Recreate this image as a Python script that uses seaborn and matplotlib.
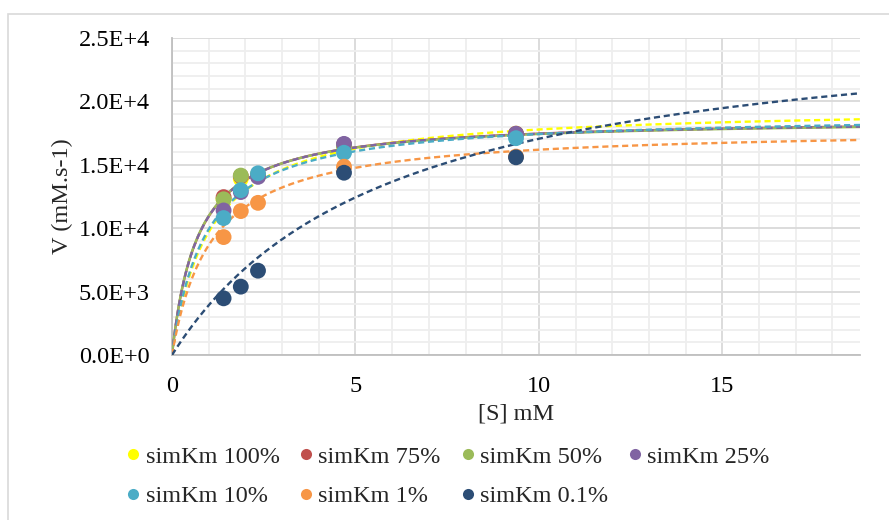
import numpy as np
import pandas as pd
import matplotlib
matplotlib.use("Agg")
import matplotlib.pyplot as plt
from matplotlib.lines import Line2D
from matplotlib.patches import Rectangle
from matplotlib.ticker import MultipleLocator, FuncFormatter
import seaborn as sns

# ---- data ----
series = ["simKm 100%", "simKm 75%", "simKm 50%", "simKm 25%",
          "simKm 10%", "simKm 1%", "simKm 0.1%"]
colors = ["#FFFF00", "#C0504D", "#9BBB59", "#8064A2",
          "#4BACC6", "#F79646", "#2C4D75"]
S = [1.40625, 1.875, 2.34375, 4.6875, 9.375]
v100 = [12300, 13900, 14250, 16500, 17450]
v75 = [12450, 14100, 14150, 16600, 17450]
v50 = [12280, 14150, 14100, 16450, 17350]
v25 = [11400, 12850, 14050, 16650, 17450]
v10 = [10800, 13000, 14330, 15950, 17100]
v1 = [9300, 11350, 12000, 14850, 15650]
v01 = [4470, 5390, 6650, 14375, 15590]
values = [v100, v75, v50, v25, v10, v1, v01]

# fitted Michaelis-Menten trend lines (Vmax, Km)
vmax = [19600, 18700, 18650, 18690, 19030, 17925, 27170]
km = [1.02, 0.71, 0.70, 0.71, 0.92, 1.07, 5.93]
x_max = 18.75

sns.set_style("white")
plt.rcParams["font.family"] = ["Liberation Serif", "DejaVu Serif"]
FS = 17.5

fig = plt.figure(figsize=(8.89, 5.2), dpi=100)
ax = fig.add_axes([172 / 889, 1 - 355 / 520, (860 - 172) / 889, (355 - 38) / 520])

# chart border
fig.patches.append(Rectangle((8 / 889, -0.05), 1.2, 1 - 14 / 520 + 0.05,
                             transform=fig.transFigure, fill=False,
                             edgecolor="#D9D9D9", lw=1.2, zorder=0))

xs = np.linspace(0, x_max, 400)
line_styles = [(0, (2.6, 1.6)), "-", "-", (0, (2.6, 1.6)),
               (0, (2.6, 1.6)), (0, (2.6, 1.6)), (0, (2.6, 1.6))]
for name, c, vm, k, ls in zip(series, colors, vmax, km, line_styles):
    dfl = pd.DataFrame({"S": xs, "V": vm * xs / (k + xs)})
    sns.lineplot(data=dfl, x="S", y="V", ax=ax, color=c, lw=1.7,
                 linestyle=ls, zorder=3, legend=False)

for name, c, vals in zip(series, colors, values):
    dfp = pd.DataFrame({"S": S, "V": vals})
    sns.scatterplot(data=dfp, x="S", y="V", ax=ax, color=c, s=130,
                    edgecolor="none", zorder=4, legend=False)

ax.set_xlim(0, x_max)
ax.set_ylim(0, 25000)
ax.xaxis.set_major_locator(MultipleLocator(5))
ax.xaxis.set_minor_locator(MultipleLocator(1))
ax.yaxis.set_major_locator(MultipleLocator(5000))
ax.yaxis.set_minor_locator(MultipleLocator(1000))


def sci(v, pos):
    if v == 0:
        return "0.0E+0"
    e = int(np.floor(np.log10(abs(v))))
    return f"{v / 10 ** e:.1f}E+{e}"


ax.yaxis.set_major_formatter(FuncFormatter(sci))
ax.xaxis.set_major_formatter(FuncFormatter(lambda v, p: f"{v:g}"))
ax.grid(True, which="major", color="#D9D9D9", lw=1.3)
ax.grid(True, which="minor", color="#EEEEEE", lw=1.3)
ax.set_axisbelow(True)
for sp in ["top", "right"]:
    ax.spines[sp].set_visible(False)
for sp in ["left", "bottom"]:
    ax.spines[sp].set_color("#BFBFBF")
    ax.spines[sp].set_linewidth(1.3)
ax.tick_params(axis="both", which="both", length=0, labelsize=FS, colors="black")
ax.tick_params(axis="y", pad=16)
ax.tick_params(axis="x", pad=15)
ax.set_xlabel("[S] mM", fontsize=FS, labelpad=5)
ax.set_ylabel("V (mM.s-1)", fontsize=FS, labelpad=4)

# legend filled row by row (matplotlib fills by column, so reorder)
order = [0, 4, 1, 5, 2, 6, 3]
handles = [Line2D([], [], marker="o", ls="none", color=colors[i], markersize=8,
                  markeredgewidth=0) for i in order]
labels = [series[i] for i in order]
fig.legend(handles, labels, ncol=4, loc="upper left",
           bbox_to_anchor=(114 / 889, 1 - 436 / 520), frameon=False,
           fontsize=FS, handletextpad=0.1, columnspacing=0.7,
           handlelength=0.8, labelspacing=0.72, borderaxespad=0)

fig.savefig("out.png", dpi=100)
